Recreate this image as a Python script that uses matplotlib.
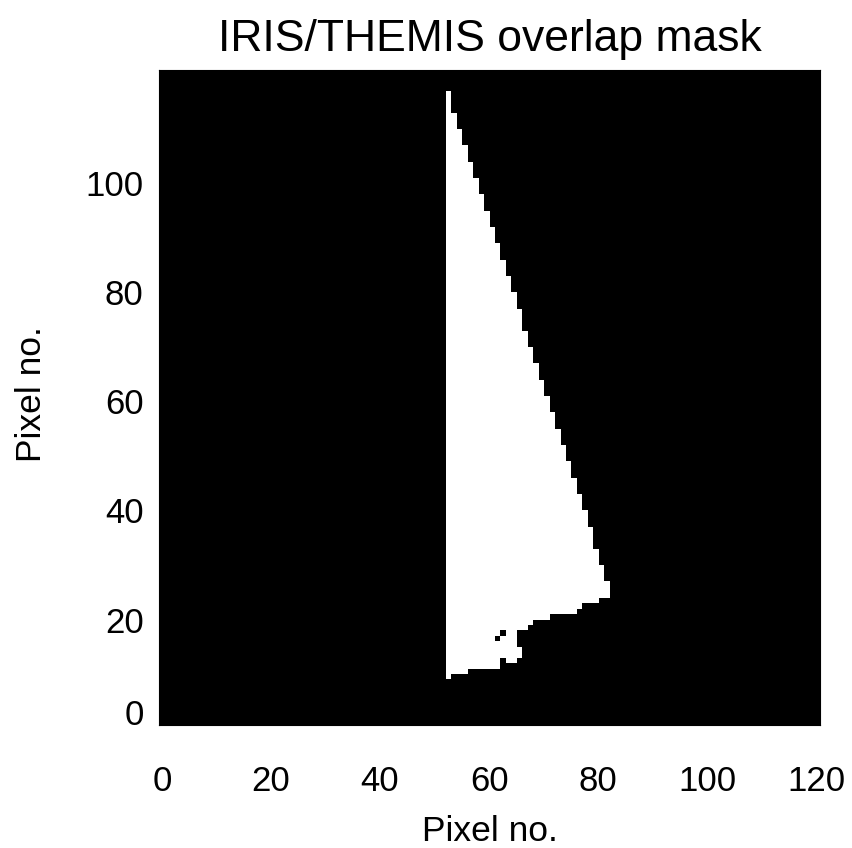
import numpy as np
import matplotlib.pyplot as plt

plt.rcParams['font.family'] = ['Liberation Sans', 'DejaVu Sans']

# mask size (columns x rows)
n_cols = 121
n_rows = 122
left_col = 52

# runs of rows that share the same right-hand edge of the white region
run_first = [9, 10, 11, 12, 13, 15, 18, 19, 20, 21, 22, 23, 24, 27, 30, 33, 37, 40,
             43, 46, 49, 52, 55, 58, 61, 64, 67, 70, 73, 77, 80, 83, 86, 89, 92, 95,
             98, 101, 104, 107, 110, 113]
run_last = [9, 10, 11, 12, 14, 17, 18, 19, 20, 21, 22, 23, 26, 29, 32, 36, 39, 42,
            45, 48, 51, 54, 57, 60, 63, 66, 69, 72, 76, 79, 82, 85, 88, 91, 94, 97,
            100, 103, 106, 109, 112, 116]
run_right = [52, 55, 61, 64, 65, 64, 66, 67, 70, 75, 76, 79, 81, 80, 79, 78, 77, 76,
             75, 74, 73, 72, 71, 70, 69, 68, 67, 66, 65, 64, 63, 62, 61, 60, 59, 58,
             57, 56, 55, 54, 53, 52]

# single black pixels inside the white region
hole_rows = [17, 16, 12]
hole_cols = [62, 61, 62]

x_ticks = [0, 20, 40, 60, 80, 100, 120]
y_ticks = [0, 20, 40, 60, 80, 100]

mask = np.zeros((n_rows, n_cols))
for r0, r1, c1 in zip(run_first, run_last, run_right):
    mask[r0:r1 + 1, left_col:c1 + 1] = 1
for r, c in zip(hole_rows, hole_cols):
    mask[r, c] = 0

fig = plt.figure(figsize=(8.52, 8.48), dpi=100)
ax = fig.add_axes([159 / 852, 1 - 725 / 848, 661 / 852, 655 / 848])
ax.set_facecolor('black')
ax.imshow(mask, cmap='gray', vmin=0, vmax=1, origin='lower',
          extent=(0, n_cols, 0, n_rows), interpolation='nearest', aspect='auto')

y_lo, y_hi = 0.65, 120.8
ax.set_xlim(-0.55, 120.7)
ax.set_ylim(y_lo, y_hi)

ax.set_xticks(x_ticks)
ax.set_xticklabels([str(t) for t in x_ticks])
# the 0 tick sits just below the image, so its label is put on the lower edge
ax.set_yticks([max(t, y_lo) for t in y_ticks])
ax.set_yticklabels([str(t) for t in y_ticks])
ax.tick_params(axis='both', length=0, labelsize=25)
ax.tick_params(axis='x', pad=29)
ax.tick_params(axis='y', pad=11)
ax.yaxis.get_major_ticks()[0].label1.set_va('baseline')

for s in ax.spines.values():
    s.set_linewidth(0.8)

ax.set_title('IRIS/THEMIS overlap mask', fontsize=32, pad=14)
ax.set_xlabel('Pixel no.', fontsize=25.5)
ax.set_ylabel('Pixel no.', fontsize=25.5)
ax.xaxis.set_label_coords(0.5, -0.137)
ax.yaxis.set_label_coords(-0.168, 0.505)

fig.savefig('out.png', dpi=100)
